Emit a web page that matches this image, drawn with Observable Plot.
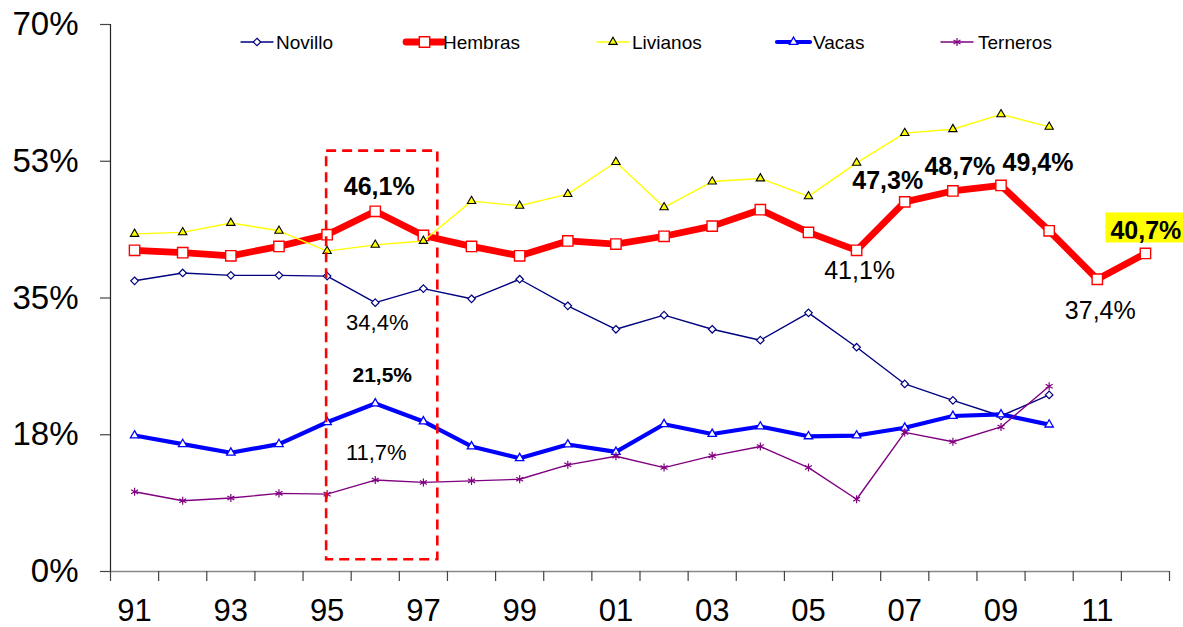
<!DOCTYPE html>
<html>
<head>
<meta charset="utf-8">
<script src="https://cdn.jsdelivr.net/npm/d3@7"></script>
<script src="https://cdn.jsdelivr.net/npm/@observablehq/plot@0.6"></script>
<style>
html, body { margin: 0; padding: 0; background: #fff; }
#wrap { position: relative; width: 1183px; height: 627px; overflow: hidden; font-family: "Liberation Sans", Arial, sans-serif; }
#legend { position: absolute; left: 0; top: 0; pointer-events: none; }
</style>
</head>
<body>
<div id="wrap"></div>
<script>
// ---------- data ----------
const years = [1991,1992,1993,1994,1995,1996,1997,1998,1999,2000,2001,2002,2003,2004,2005,2006,2007,2008,2009,2010,2011,2012];
const xLabelYears = [1991,1993,1995,1997,1999,2001,2003,2005,2007,2009,2011];
const xTickLabels = ["91","93","95","97","99","01","03","05","07","09","11"];
const yTicks = [0, 17.5, 35, 52.5, 70];
const yTickLabels = ["0%","18%","35%","53%","70%"];
const seriesNames = ["Novillo","Hembras","Livianos","Vacas","Terneros"];

const novillo  = [37.2, 38.2, 37.9, 37.9, 37.8, 34.4, 36.2, 34.9, 37.4, 34.0, 31.0, 32.8, 31.0, 29.6, 33.1, 28.7, 24.0, 21.9, 19.9, 22.6];
const hembras  = [41.1, 40.8, 40.4, 41.6, 43.1, 46.1, 43.0, 41.6, 40.4, 42.3, 41.9, 42.9, 44.2, 46.3, 43.4, 41.1, 47.3, 48.7, 49.4, 43.6, 37.4, 40.7];
const livianos = [43.2, 43.4, 44.6, 43.6, 41.0, 41.8, 42.3, 47.4, 46.8, 48.3, 52.4, 46.6, 49.9, 50.3, 48.0, 52.3, 56.1, 56.6, 58.5, 56.9];
const vacas    = [17.4, 16.3, 15.2, 16.3, 19.1, 21.5, 19.2, 16.0, 14.5, 16.25, 15.3, 18.85, 17.6, 18.55, 17.3, 17.4, 18.4, 19.9, 20.1, 18.8];
const terneros = [10.2, 9.05, 9.4, 10.0, 9.9, 11.7, 11.4, 11.6, 11.8, 13.65, 14.75, 13.3, 14.8, 16.0, 13.3, 9.25, 17.8, 16.6, 18.5, 23.7];

const annotations = [
  {series: "Hembras",  year: 1996, text: "46,1%"},
  {series: "Hembras",  year: 2006, text: "41,1%"},
  {series: "Hembras",  year: 2007, text: "47,3%"},
  {series: "Hembras",  year: 2008, text: "48,7%"},
  {series: "Hembras",  year: 2009, text: "49,4%"},
  {series: "Hembras",  year: 2011, text: "37,4%"},
  {series: "Hembras",  year: 2012, text: "40,7%"},
  {series: "Novillo",  year: 1996, text: "34,4%"},
  {series: "Vacas",    year: 1996, text: "21,5%"},
  {series: "Terneros", year: 1996, text: "11,7%"}
];
// highlighted period (years 1995–1997), in data units
const highlightPeriod = [{x1: 1994.99, x2: 1997.3, y1: 1.5, y2: 53.8}];

// ---------- styles ----------
const FONT = "Liberation Sans, Arial, sans-serif";
const styles = {
  Novillo:  {color: "#000080", width: 1.4, symbol: "diamond2",  r: 3.4, fill: "white",   mstroke: "#000080", mw: 1.2},
  Hembras:  {color: "#FF0000", width: 6.8, symbol: "square2",   r: 6.6, fill: "white",   mstroke: "#FF0000", mw: 1.4},
  Livianos: {color: "#FFFF00", width: 1.4, symbol: "triangle",  r: 3.1, fill: "#FFFF00", mstroke: "#000000", mw: 1.1},
  Vacas:    {color: "#0000FF", width: 4.2, symbol: "triangle2", r: 4.0, fill: "white",   mstroke: "#0000FF", mw: 1.3},
  Terneros: {color: "#800080", width: 1.4, symbol: "asterisk",  r: 3.8, fill: "none",    mstroke: "#800080", mw: 1.2}
};
const annotationStyles = [
  {dx: 4,   dy: -16, size: 25, weight: "bold",   anchor: "middle"},
  {dx: 3,   dy: 29,  size: 25, weight: "normal", anchor: "middle"},
  {dx: -17, dy: -13, size: 25, weight: "bold",   anchor: "middle"},
  {dx: 7,   dy: -16, size: 25, weight: "bold",   anchor: "middle"},
  {dx: 37,  dy: -14, size: 25, weight: "bold",   anchor: "middle"},
  {dx: 3,   dy: 40,  size: 25, weight: "normal", anchor: "middle"},
  {dx: -35, dy: -14, size: 25, weight: "bold",   anchor: "start"},
  {dx: 2,   dy: 27,  size: 22, weight: "normal", anchor: "middle"},
  {dx: 7,   dy: -21, size: 21, weight: "bold",   anchor: "middle"},
  {dx: 1,   dy: -20, size: 22, weight: "normal", anchor: "middle"}
];
const legendLayout = {y: 42, items: [
  {x1: 241, x2: 273, tx: 276},
  {x1: 406, x2: 443, tx: 443},
  {x1: 597, x2: 629, tx: 632},
  {x1: 777, x2: 810, tx: 813},
  {x1: 941, x2: 973, tx: 978}
]};

// ---------- build ----------
const seriesValues = {Novillo: novillo, Hembras: hembras, Livianos: livianos, Vacas: vacas, Terneros: terneros};
const seriesData = {};
for (const name of seriesNames) {
  seriesData[name] = seriesValues[name].map((v, i) => ({year: years[i], value: v}));
}
const xDomain = [years[0] - 0.5, years[years.length - 1] + 0.5];
const boundaries = years.map(y => y - 0.5).concat([years[years.length - 1] + 0.5]);

const marks = [];
// frame lines
marks.push(Plot.ruleY([0], {stroke: "#888", strokeWidth: 1.3}));
marks.push(Plot.axisX({ticks: boundaries, tickSize: 10, tickFormat: () => "", stroke: "#444", strokeWidth: 1.2, label: null}));
marks.push(Plot.axisX({ticks: xLabelYears, tickSize: 0, tickPadding: 27, fontSize: 31, fill: "#000",
  tickFormat: d => xTickLabels[xLabelYears.indexOf(d)], label: null}));
marks.push(Plot.ruleX([xDomain[0]], {y1: yTicks[0], y2: yTicks[yTicks.length - 1], stroke: "#222", strokeWidth: 1.2}));
marks.push(Plot.axisY({ticks: yTicks, tickSize: 10, tickPadding: 22, fontSize: 33, fill: "#000", stroke: "#444", strokeWidth: 1.2,
  tickFormat: d => yTickLabels[yTicks.indexOf(d)], label: null}));

// series (Excel order: later series on top)
for (const name of seriesNames) {
  const s = styles[name];
  marks.push(Plot.line(seriesData[name], {x: "year", y: "value", stroke: s.color, strokeWidth: s.width, strokeLinejoin: "round", strokeLinecap: "round"}));
  marks.push(Plot.dot(seriesData[name], {x: "year", y: "value", symbol: s.symbol, r: s.r, fill: s.fill, stroke: s.mstroke, strokeWidth: s.mw}));
}

// highlight box
marks.push(Plot.rect(highlightPeriod, {x1: "x1", x2: "x2", y1: "y1", y2: "y2", fill: "none", stroke: "#FF0000", strokeWidth: 2.6, strokeDasharray: "10,6"}));

// annotations
annotations.forEach((a, i) => {
  const st = annotationStyles[i];
  const v = seriesValues[a.series][years.indexOf(a.year)];
  marks.push(Plot.text([{year: a.year, value: v, text: a.text}], {
    x: "year", y: "value", text: "text", dx: st.dx, dy: st.dy,
    fontSize: st.size, fontWeight: st.weight, textAnchor: st.anchor, lineAnchor: "bottom", fill: "#000"
  }));
});

const chart = Plot.plot({
  width: 1183,
  height: 627,
  marginLeft: 110,
  marginRight: 14,
  marginTop: 24,
  marginBottom: 56,
  style: {fontFamily: FONT, background: "white", overflow: "visible"},
  x: {type: "linear", domain: xDomain, axis: null, label: null},
  y: {type: "linear", domain: [yTicks[0], yTicks[yTicks.length - 1]], axis: null, label: null},
  marks
});

const wrap = document.getElementById("wrap");
wrap.appendChild(chart);

// yellow highlight behind the last label
const svgSel = d3.select(chart.tagName.toLowerCase() === "svg" ? chart : chart.querySelector("svg"));
svgSel.selectAll("text").filter(function() { return this.textContent === "40,7%"; }).each(function() {
  const bb = this.getBBox();
  const parent = this.parentNode;
  const rect = document.createElementNS("http://www.w3.org/2000/svg", "rect");
  rect.setAttribute("x", bb.x - 5);
  rect.setAttribute("y", bb.y - 4);
  rect.setAttribute("width", bb.width + 14);
  rect.setAttribute("height", bb.height + 2);
  rect.setAttribute("fill", "#FFFF00");
  const tr = this.getAttribute("transform");
  if (tr) rect.setAttribute("transform", tr);
  parent.insertBefore(rect, this);
});

// legend overlay
const leg = d3.select(wrap).append("svg").attr("id", "legend").attr("width", 1183).attr("height", 70);
const symMap = {diamond2: d3.symbolDiamond2, square2: d3.symbolSquare2, triangle: d3.symbolTriangle, triangle2: d3.symbolTriangle2, asterisk: d3.symbolAsterisk};
seriesNames.forEach((name, i) => {
  const s = styles[name];
  const L = legendLayout.items[i];
  const y = legendLayout.y;
  leg.append("line").attr("x1", L.x1).attr("x2", L.x2).attr("y1", y).attr("y2", y)
    .attr("stroke", s.color).attr("stroke-width", s.width).attr("stroke-linecap", "round");
  leg.append("path").attr("d", d3.symbol(symMap[s.symbol], Math.PI * s.r * s.r)())
    .attr("transform", `translate(${(L.x1 + L.x2) / 2},${y})`)
    .attr("fill", s.fill).attr("stroke", s.mstroke).attr("stroke-width", s.mw);
  leg.append("text").attr("x", L.tx).attr("y", y + 7).attr("font-size", 19).attr("font-family", FONT)
    .attr("fill", "#000").text(name);
});
</script>
</body>
</html>
